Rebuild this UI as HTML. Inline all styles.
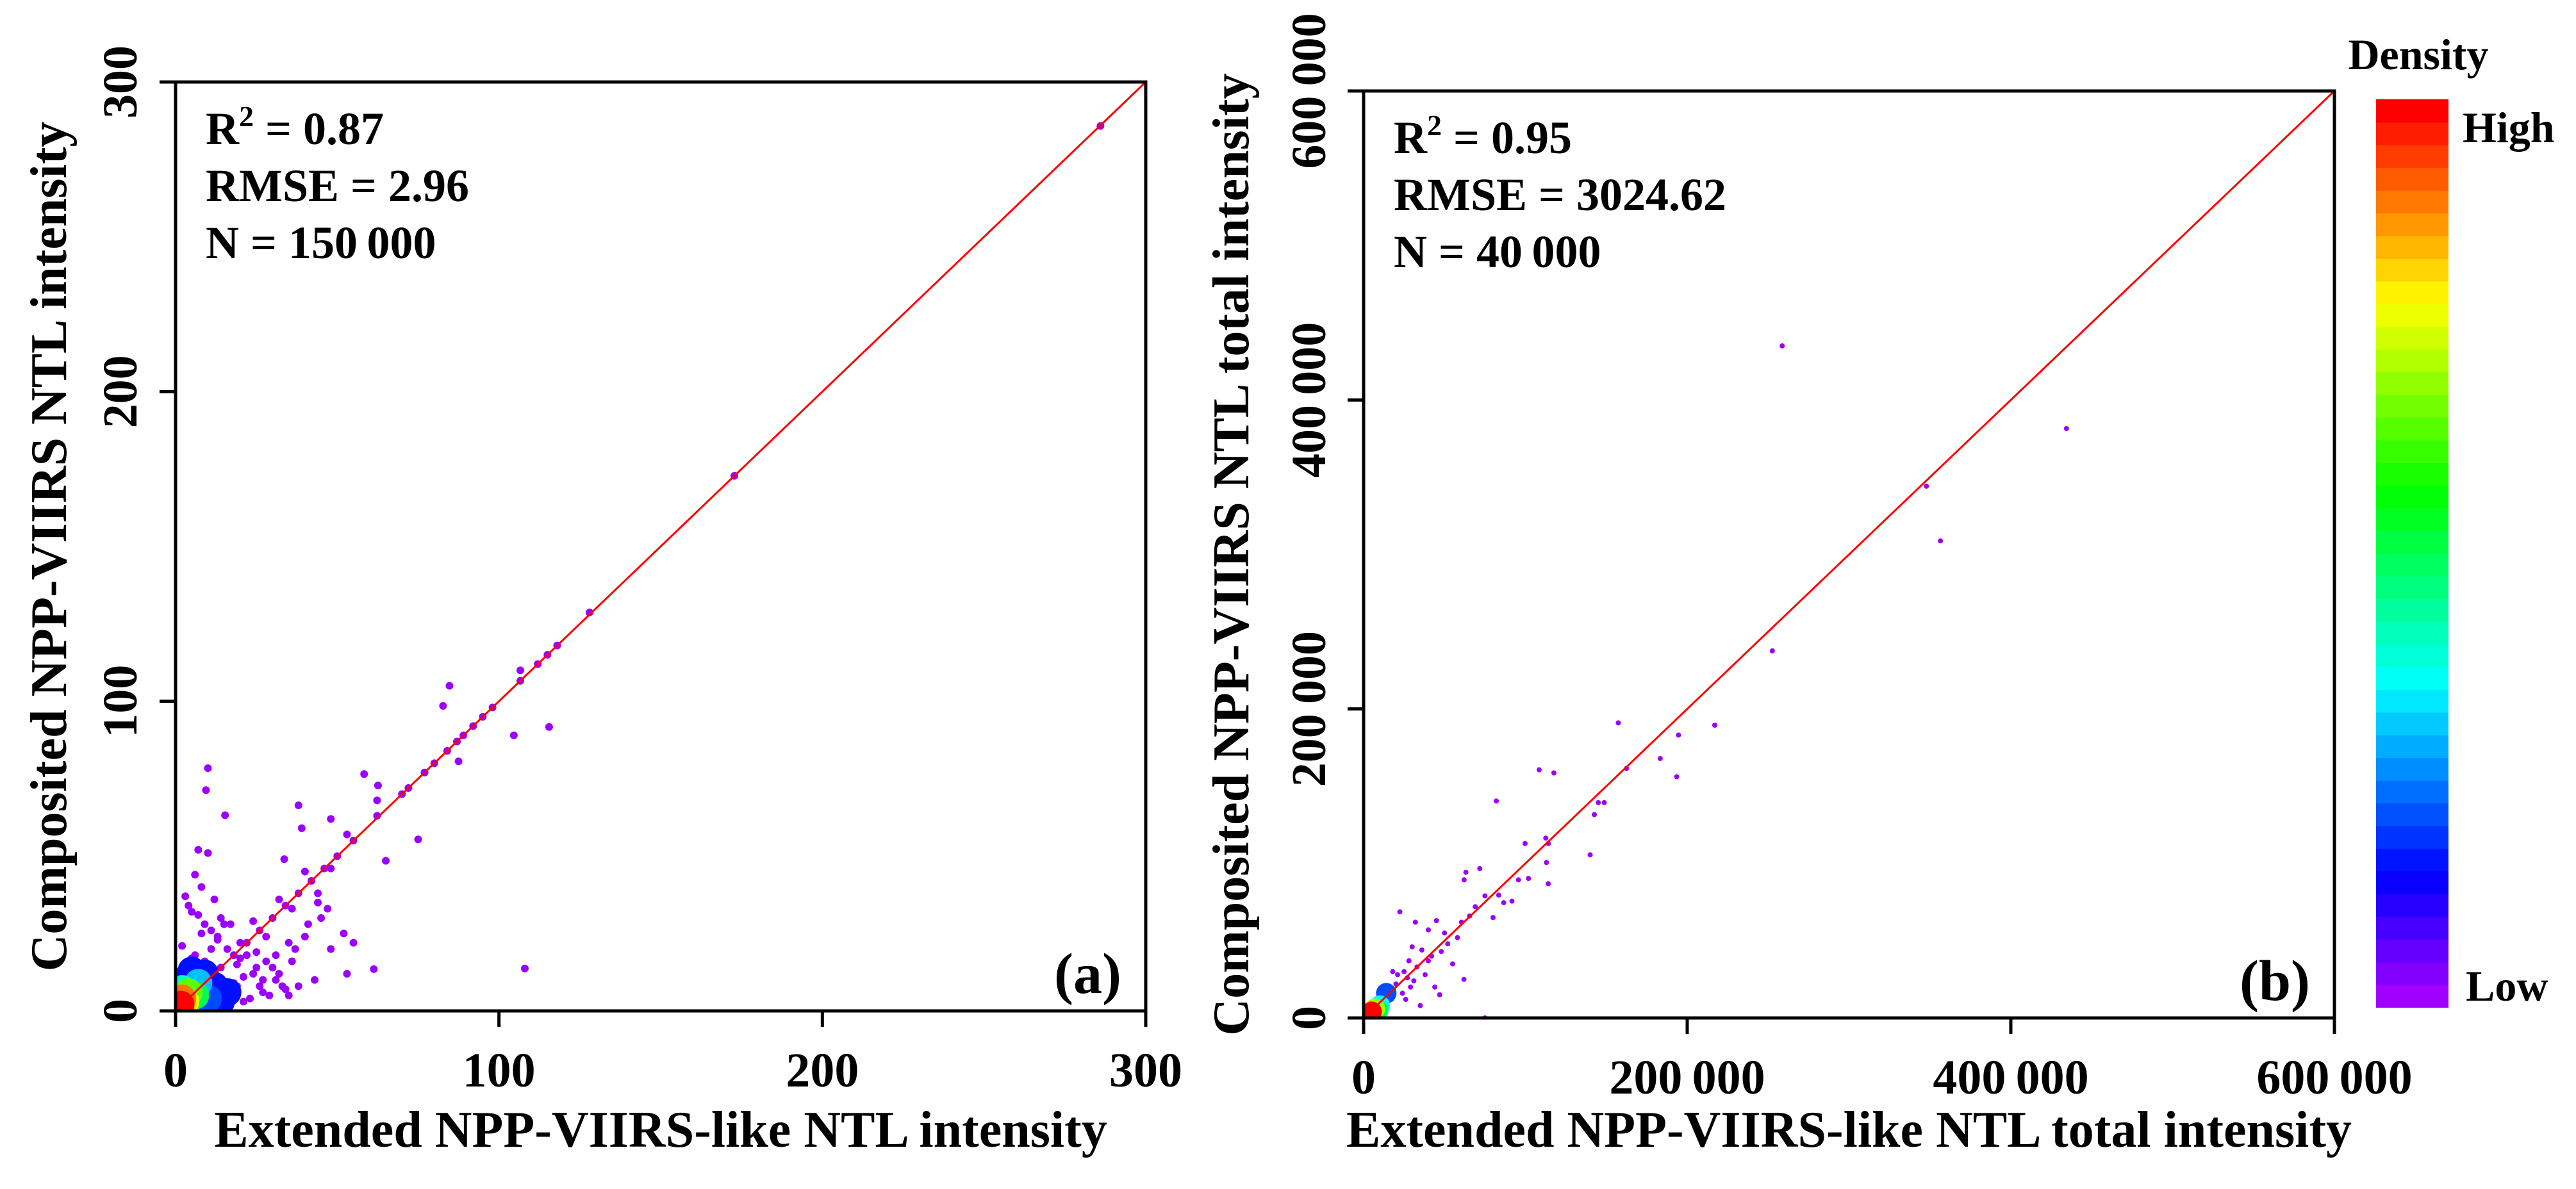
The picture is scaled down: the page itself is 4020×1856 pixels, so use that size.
<!DOCTYPE html>
<html><head><meta charset="utf-8"><style>
html,body{margin:0;padding:0;background:#fff;}
svg{display:block;font-family:"Liberation Serif",serif;font-weight:bold;}
</style></head><body>
<svg id="fig" width="4020" height="1856" viewBox="0 0 4020 1856" xmlns="http://www.w3.org/2000/svg">
<defs>
<clipPath id="clipA"><rect x="274" y="128" width="1514" height="1450"/></clipPath>
<clipPath id="clipB"><rect x="2128" y="142" width="1515" height="1447"/></clipPath>
</defs>
<g id="pa"></g>
<g id="pb"></g>
<g id="cb"></g>
</svg>
<script>
// ---- Panel (a) data ----
const aTicks = [0, 100, 200, 300];
const aTickLabels = ["0", "100", "200", "300"];
const aX = [286,172.8,128,118,115,112,106.6,106.6,84.7,82.7,104.6,115.5,98,95,92,89,87,87.5,84,80,77,75,72,70,77,58.3,62.6,62.3,62.3,65,38,48,39,33.6,10,9.4,15.3,61.3,108,
  55,50,46,42,38,34,30,26,22,18,14,53,48,44,40,36,32,28,24,20,
  7,10,8,12,6,14,5,8,17,20,22,25,27,30,33,35,37,41,44,47,52,55,53,48,45,43,40,36,
  12,15,18,21,24,26,29,31,19,16,13,11,9,7,4,3,2,5,8,10,14,17,23,27,31,34,38,
  9,11,13,15,4,6,17,19,21,25,28,32,35];
const aY = [285.8,172.8,128.7,118,115,112,110,106.6,105,98.5,89,91.7,98,95,92,89,87,80.6,84,80,77,55.4,72,70,77,76.5,72.8,68,63,48.5,66.4,62,59,49,78.4,71.3,63.2,13.5,13.7,
  55,50,46,42,38,34,30,26,22,18,14,57,46,38,45,33,36,24,29,17,
  52,51,40,36,44,30,32,25,28,22,18,19,10,14,8,5,20,28,35,33,25,22,12,20,30,10,24,16,
  4,6,9,3,12,8,5,18,15,20,23,26,28,31,34,37,21,17,13,9,3,2,4,6,10,7,8,
  16,20,24,28,14,18,6,8,11,14,16,12,22];
// density core (drawn in order low -> high)
const aCoreX = [12,14,9,16,5,3,10,7,2,6,4,3,2,1.5,1];
const aCoreY = [8,3,12,6,13,10,4,9,7,5,6,3,4,2,1];
const aCoreD = [0.15,0.15,0.15,0.15,0.15,0.15,0.2,0.3,0.4,0.5,0.65,0.8,0.9,1,1];

// ---- Panel (b) data ----
const bTicks = [0, 200000, 400000, 600000];
const bTickLabels = ["0", "200\u2009000", "400\u2009000", "600\u2009000"];
const bX = [258700,434400,347800,356500,252600,157400,217000,194600,183300,193500,162500,108500,117600,82000,148700,145000,142600,140000,99800,112600,114100,113000,114100,95700,101900,71800,63200,62100,83500,86600,91700,
  75000,69000,80000,65500,60500,50000,22400,32000,40000,45000,52000,58000,36000,28000,25000,30000,42000,48000,55000,38000,33000,27000,20000,18000,15000,24000,47000,75000,35000,44000,62000,21000,17000,29000,40000,12000,26000,31000];
const bY = [435000,381500,344200,308800,237600,191000,189500,183100,167900,156100,161500,160600,158600,140400,139400,139400,131600,105600,112900,116400,112900,100600,86900,89400,90300,96700,94300,89400,79500,74600,75600,
  79000,72000,65000,66000,62000,55000,68700,62000,57000,63000,48000,52000,44000,37000,30000,46000,40000,43000,35000,28000,33000,26000,22000,30000,18000,16000,15000,0,8000,20000,25000,28000,12000,20000,37000,20000,12000,24000];
const bCoreX = [14000,10000,9000,7000,5000,4000,3000];
const bCoreY = [16000,8000,5000,6000,4000,3000,2000];
const bCoreD = [0.2,0.35,0.5,0.7,1,1,1];

const NS = "http://www.w3.org/2000/svg";
function mk(parent, tag, attrs){const e=document.createElementNS(NS,tag);for(const k in attrs)e.setAttribute(k,attrs[k]);parent.appendChild(e);return e;}
function dcolor(d){return "hsl("+(278*(1-d))+",100%,50%)";}

function panel(g, clip, box, max, ticks, tickLabels, xs, ys, cx, cy, cd, r, coreR, texts, lab, xTitle, yTitle, yTitleX, yLabX){
  const sx=v=>box.l+(v/max)*(box.r-box.l);
  const sy=v=>box.b-(v/max)*(box.b-box.t);
  const pg=mk(g,"g",{"clip-path":"url(#"+clip+")"});
  for(let i=0;i<xs.length;i++){
    const c=mk(pg,"circle",{cx:sx(xs[i]),cy:sy(ys[i]),r:r,fill:"#9b00ff"});
    
    
  }
  for(let i=0;i<cx.length;i++){
    const c=mk(pg,"circle",{cx:sx(cx[i]),cy:sy(cy[i]),r:coreR,fill:dcolor(cd[i])});
    
    
  }
  const ln=mk(g,"line",{x1:sx(0),y1:sy(0),x2:sx(max),y2:sy(max),stroke:"#ff0000","stroke-width":3});
  
  
  const fr=mk(g,"rect",{x:box.l,y:box.t,width:box.r-box.l,height:box.b-box.t,fill:"none",stroke:"#000","stroke-width":5});
  
  
  for(let i=0;i<ticks.length;i++){
    const x=sx(ticks[i]), y=sy(ticks[i]);
    const t1=mk(g,"line",{x1:x,y1:box.b,x2:x,y2:box.b+25,stroke:"#000","stroke-width":5});
    
    
    const t2=mk(g,"line",{x1:box.l-25,y1:y,x2:box.l,y2:y,stroke:"#000","stroke-width":5});
    
    
    const xl=mk(g,"text",{x:x,y:box.b+118,"font-size":76,"text-anchor":"middle"});
    xl.textContent=tickLabels[i];
    
    
    const yl=mk(g,"text",{x:0,y:0,"font-size":76,"text-anchor":"middle",transform:"translate("+(yLabX+26)+","+y+") rotate(-90)"});
    yl.textContent=tickLabels[i];
    
    
  }
  texts.forEach((t,i)=>{
    const e=mk(g,"text",{x:box.l+47,y:box.t+97+i*89,"font-size":72});
    e.innerHTML=t;
    
    
  });
  const pl=mk(g,"text",{x:box.r-38,y:box.b-28,"font-size":90,"text-anchor":"end"});
  pl.textContent=lab;
  
  
  const xt=mk(g,"text",{x:(box.l+box.r)/2,y:1790,"font-size":80,"text-anchor":"middle"});
  xt.textContent=xTitle;
  
  
  const yt=mk(g,"text",{x:0,y:0,"font-size":80,"text-anchor":"middle",transform:"translate("+(yTitleX+28)+","+((box.t+box.b)/2)+") rotate(-90)"});
  yt.textContent=yTitle;
  
  
}

panel(document.getElementById("pa"),"clipA",{l:274,r:1788,t:128,b:1578},300,aTicks,aTickLabels,aX,aY,aCoreX,aCoreY,aCoreD,6,22,
  ['R<tspan font-size="46" dy="-28">2</tspan><tspan dy="28"> = 0.87</tspan>','RMSE = 2.96','N = 150\u2009000'],
  "(a)","Extended NPP-VIIRS-like NTL intensity","Composited NPP-VIIRS NTL intensity",75,187);
panel(document.getElementById("pb"),"clipB",{l:2128,r:3643,t:142,b:1589},600000,bTicks,bTickLabels,bX,bY,bCoreX,bCoreY,bCoreD,4,16,
  ['R<tspan font-size="46" dy="-28">2</tspan><tspan dy="28"> = 0.95</tspan>','RMSE = 3024.62','N = 40\u2009000'],
  "(b)","Extended NPP-VIIRS-like NTL total intensity","Composited NPP-VIIRS NTL total intensity",1920,2042);

const cbG=document.getElementById("cb");
const nb=40, cbTop=155, cbBot=1572, bandH=(cbBot-cbTop)/nb;
for(let i=0;i<nb;i++){
  const d=i/(nb-1);
  const r=mk(cbG,"rect",{x:3708,y:cbBot-(i+1)*bandH,width:113,height:bandH+1,fill:dcolor(d)});
  
  
}
const t1=mk(cbG,"text",{x:3774,y:108,"font-size":68,"text-anchor":"middle"});t1.textContent="Density";


const t2=mk(cbG,"text",{x:3843,y:222,"font-size":68});t2.textContent="High";


const t3=mk(cbG,"text",{x:3848,y:1562,"font-size":68});t3.textContent="Low";


</script>
</body></html>
